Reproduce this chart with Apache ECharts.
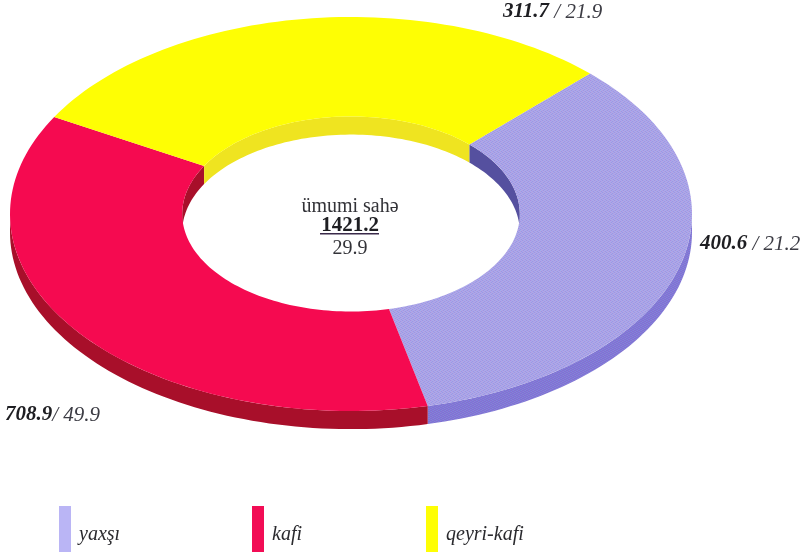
<!DOCTYPE html>
<html>
<head>
<meta charset="utf-8">
<style>html,body{margin:0;padding:0;background:#fff}#c{width:804px;height:552px}</style>
<script src="https://cdn.jsdelivr.net/npm/echarts@6/dist/echarts.min.js"></script>
</head>
<body>
<div id="c"></div>
<script>
// Data
const categories = ['yaxşı', 'kafi', 'qeyri-kafi'];
const areaValues = ['400.6', '708.9', '311.7'];
const percentValues = ['21.2', '49.9', '21.9'];
// The printed donut's slices are not proportional to the printed values; these are the sweeps as drawn (degrees).
const drawnSweeps = [122.5, 132.5, 105];
const totalTitle = 'ümumi sahə';
const totalArea = '1421.2';
const totalPercent = '29.9';

// Style and layout
const firstAngle = 45.5;
function weave(a, b, c, d) { // small scan-like screen tile for the lavender faces
  const cv = document.createElement('canvas');
  cv.width = 4; cv.height = 4;
  const g = cv.getContext('2d');
  [[a, b, c, d], [c, d, a, b], [b, a, d, c], [d, c, b, a]].forEach((row, y) =>
    row.forEach((col, x) => { g.fillStyle = col; g.fillRect(x, y, 1, 1); }));
  return { image: cv, repeat: 'repeat' };
}
const topColors = [weave('#b3a4ea', '#9fb0ec', '#a78fe2', '#a9a6e0'), '#f50a50', '#fefe04'];
const seriesColors = ['#a9a3e6', '#f50a50', '#fefe04'];
const legendColors = ['#bab5f5', '#f20d55', '#fefe04'];
const outerWallColors = [weave('#8a7ed8', '#7a80dc', '#8a6cd0', '#7c78d0'), '#a80f2a', '#c9c900'];
const innerWallColors = ['#55509f', '#a80f2a', '#efe420'];
const INNER = 0.495, DEPTH = 0.092, SERIF = '"Liberation Serif", serif';
const legendLefts = [54, 247, 421];
const labelBoxes = [
  { x: 700, y: 244, sep: ' / ' },
  { x: 5, y: 415, sep: '/ ' },
  { x: 503, y: 12, sep: ' / ' }
];

let acc = firstAngle;
const spans = drawnSweeps.map(s => { const r = [acc - s, acc]; acc -= s; return r; });

function arc(api, a0, a1, r, dy) {
  const pts = [], n = Math.max(2, Math.ceil(Math.abs(a1 - a0) / 1.5));
  for (let i = 0; i <= n; i++) {
    const t = (a0 + (a1 - a0) * i / n) * Math.PI / 180;
    pts.push(api.coord([r * Math.cos(t), r * Math.sin(t) - dy]));
  }
  return pts;
}
function topRenderer(fill) {
  return function (params, api) {
    const a0 = api.value(0), a1 = api.value(1);
    return {
      type: 'polygon',
      shape: { points: arc(api, a0, a1, 1, 0).concat(arc(api, a1, a0, INNER, 0)) },
      style: { fill: fill }
    };
  };
}
// visible side faces: lower part of the outer rim, upper part of the hole
function renderWalls(params, api) {
  const a0 = api.value(0), a1 = api.value(1), i = params.dataIndex;
  const kids = [];
  const clip = (lo, hi, from, to) => {
    const out = [];
    for (const k of [-360, 0, 360]) {
      const s = Math.max(lo + k, from), e = Math.min(hi + k, to);
      if (e > s) out.push([s, e]);
    }
    return out;
  };
  clip(a0, a1, -180, 0).forEach(([s, e]) => kids.push({
    type: 'polygon',
    shape: { points: arc(api, s, e, 1, 0).concat(arc(api, e, s, 1, DEPTH)) },
    style: { fill: outerWallColors[i] }
  }));
  clip(a0, a1, 0, 180).forEach(([s, e]) => kids.push({
    type: 'polygon',
    shape: { points: arc(api, s, e, INNER, 0).concat(arc(api, e, s, INNER, DEPTH)) },
    style: { fill: innerWallColors[i] }
  }));
  return { type: 'group', children: kids };
}

const chart = echarts.init(document.getElementById('c'), null, { renderer: 'canvas' });
const labelRich = {
  v: { font: 'italic bold 21px ' + SERIF, fill: '#1e1e22' },
  p: { font: 'italic 21px ' + SERIF, fill: '#3c3c44' }
};
const centerText = (text, y, font, fill) => ({
  type: 'text', x: 350, y: y, silent: true,
  style: { text: text, font: font, fill: fill, align: 'center', verticalAlign: 'middle' }
});
chart.setOption({
  animation: false,
  backgroundColor: '#fff',
  grid: { left: 10, right: 112, top: 17, bottom: 141 },
  xAxis: { type: 'value', min: -1, max: 1, show: false },
  yAxis: { type: 'value', min: -1, max: 1, show: false },
  legend: categories.map((c, i) => ({
    data: [{ name: c, icon: 'rect', itemStyle: { color: legendColors[i] } }],
    left: legendLefts[i], top: 501, itemWidth: 12, itemHeight: 46,
    selectedMode: false,
    formatter: '{t|{name}}',
    textStyle: {
      rich: { t: { fontFamily: SERIF, fontStyle: 'italic', fontSize: 20, color: '#2a2a2e', padding: [12, 0, 0, 3] } }
    }
  })),
  series: [
    {
      type: 'custom', name: 'walls', z: 1, silent: true,
      renderItem: renderWalls,
      data: spans
    }
  ].concat(categories.map((c, i) => ({
    type: 'custom', name: c, z: 2, silent: true,
    itemStyle: { color: seriesColors[i] },
    renderItem: topRenderer(topColors[i]),
    data: [spans[i]]
  }))),
  graphic: labelBoxes.map((b, i) => ({
    type: 'text', x: b.x, y: b.y, silent: true,
    style: { text: '{v|' + areaValues[i] + '}{p|' + b.sep + percentValues[i] + '}', rich: labelRich, verticalAlign: 'middle' }
  })).concat([
    centerText(totalTitle, 207, '20px ' + SERIF, '#333338'),
    centerText(totalArea, 226, 'bold 21px ' + SERIF, '#1e1e22'),
    { type: 'rect', x: 320, y: 233, silent: true, shape: { width: 59, height: 1.5 }, style: { fill: '#3a2a4a' } },
    centerText(totalPercent, 249, '20px ' + SERIF, '#333338')
  ])
});
</script>
</body>
</html>
